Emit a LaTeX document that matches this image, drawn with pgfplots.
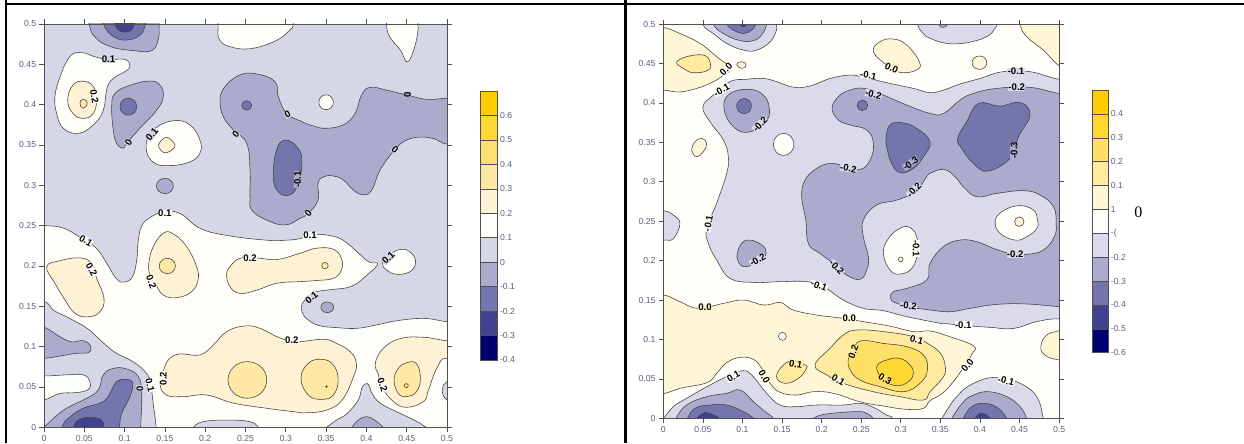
\documentclass[border=0pt]{standalone}
\usepackage{pgfplots}
\pgfplotsset{compat=1.18}
\usepackage{fontspec}
\setmainfont{Liberation Sans}
\newfontfamily\seriffont{Liberation Serif}
\definecolor{Ya}{HTML}{FFCC00}
\definecolor{Yb}{HTML}{FFD733}
\definecolor{Yc}{HTML}{FFDF6F}
\definecolor{Yd}{HTML}{FFE8A3}
\definecolor{Ye}{HTML}{FFF2D4}
\definecolor{W}{HTML}{FFFDF8}
\definecolor{C}{HTML}{D5D7E6}
\definecolor{P}{HTML}{ABABCE}
\definecolor{Q}{HTML}{7375AC}
\definecolor{R}{HTML}{41418F}
\definecolor{S}{HTML}{000070}
\definecolor{Rc}{HTML}{FFDF66}
\definecolor{Rd}{HTML}{FFEA9E}
\definecolor{Re}{HTML}{FFF6D6}
\definecolor{Rw}{HTML}{FFFEF9}
\definecolor{Rl}{HTML}{DADAEA}
\definecolor{txt}{HTML}{5C5C80}
\definecolor{ax}{HTML}{505050}
\pgfplotsset{
 F/.style={smooth cycle,tension=.72,draw=black!75,line width=.42pt,fill=#1},
 O/.style={smooth cycle,tension=1,draw=black!75,line width=.42pt,fill=#1},
 panel/.style={scale only axis,xmin=0,xmax=.5,ymin=0,ymax=.5,axis on top,
  xtick={0,.05,.1,.15,.2,.25,.3,.35,.4,.45,.5},
  xticklabels={0,0.05,0.1,0.15,0.2,0.25,0.3,0.35,0.4,0.45,0.5},
  ytick={0,.05,.1,.15,.2,.25,.3,.35,.4,.45,.5},
  yticklabels={0,0.05,0.1,0.15,0.2,0.25,0.3,0.35,0.4,0.45,0.5},
  tick align=outside,major tick length=3.4pt,
  tick style={ax,line width=.5pt},axis line style={ax,line width=.6pt},
  ticklabel style={font=\fontsize{6.5}{7}\selectfont,text=txt},
  xticklabel style={yshift=1pt},yticklabel style={xshift=1pt}},
 bar/.style={scale only axis,xmin=0,xmax=1,xtick=\empty,axis on top,
  ytick pos=right,yticklabel pos=right,major tick length=0pt,
  axis line style={ax,line width=.6pt},
  ticklabel style={font=\fontsize{6.5}{7}\selectfont,text=txt},
  yticklabel style={xshift=-1.5pt}}
}
\tikzset{lb/.style={font=\bfseries\fontsize{7.2}{8}\selectfont,text=black,inner sep=.2pt}}
\begin{document}
\begin{tikzpicture}
\useasboundingbox (0,0) rectangle (933pt,332.25pt);
\fill[black] (3.4pt,0) rectangle (5.2pt,332.25pt);
\fill[black] (3.4pt,328.2pt) rectangle (933pt,330pt);
\fill[black] (468.3pt,0) rectangle (470pt,332.25pt);
% ---------- left panel
\begin{axis}[panel,at={(33pt,11.78pt)},anchor=south west,width=302.25pt,height=302.48pt]
\addplot[fill=C,draw=none] coordinates {(0,0)(.5,0)(.5,.5)(0,.5)} --cycle;
% near-white main band
\addplot[F=W] coordinates {(-.02,.25)(0,.25)(.024,.247)(.047,.234)(.065,.222)(.078,.203)(.090,.184)(.1,.18)(.11,.187)(.115,.207)(.117,.232)(.121,.249)(.13,.259)(.148,.267)(.169,.265)(.193,.247)(.226,.238)(.276,.232)(.301,.232)(.318,.234)(.336,.239)(.355,.2376)(.371,.232)(.388,.218)(.403,.205)(.414,.2025)(.401,.189)(.382,.175)(.359,.171)(.342,.169)(.332,.165)(.321,.154)(.320,.143)(.328,.133)(.342,.126)(.363,.1236)(.388,.1227)(.413,.127)(.437,.132)(.471,.135)(.5,.131)(.53,.13)(.53,-.03)(-.03,-.03)(-.03,.2)};
% lower-left corner
\addplot[F=C] coordinates {(-.03,.158)(0,.156)(.012,.145)(.028,.137)(.053,.123)(.07,.108)(.088,.093)(.111,.081)(.127,.067)(.132,.0545)(.136,.0256)(.139,0)(.14,-.03)(-.03,-.03)};
\addplot[F=W] coordinates {(-.03,.064)(0,.0636)(.028,.065)(.0488,.065)(.057,.0566)(.055,.047)(.04,.043)(.02,.042)(0,.034)(-.03,.03)};
\addplot[F=P] coordinates {(-.03,.13)(0,.124)(.0194,.1124)(.0343,.106)(.0488,.1074)(.058,.1)(.055,.0926)(.04,.0917)(.02,.0884)(0,.0855)(-.03,.085)};
\addplot[F=P] coordinates {(-.02,-.02)(0,0)(.0116,.011)(.028,.0236)(.053,.036)(.0674,.0463)(.0736,.065)(.086,.073)(.1026,.0723)(.117,.0628)(.1212,.042)(.12,0)(.12,-.03)};
\addplot[F=Q] coordinates {(.015,-.02)(.022,0)(.03,.011)(.0488,.0236)(.0736,.032)(.084,.0463)(.09,.0566)(.1026,.0595)(.11,.0545)(.1067,.038)(.0964,.0174)(.0935,0)(.09,-.02)};
\addplot[F=R] coordinates {(.033,-.01)(.0364,0)(.0426,.009)(.057,.0124)(.0715,.009)(.0744,0)(.077,-.01)};
\addplot[O=S] coordinates {(.048,-.002)(.05,.002)(.052,-.002)(.05,-.004)};
% bottom bumps
\addplot[F=C] coordinates {(.178,-.01)(.185,0)(.198,.007)(.227,.009)(.255,.007)(.266,0)(.27,-.01)};
\addplot[F=C] coordinates {(.34,-.01)(.351,0)(.363,.009)(.376,.017)(.39,.034)(.394,.048)(.399,.0537)(.403,.0525)(.407,.042)(.417,.03)(.438,.019)(.459,.009)(.474,0)(.485,-.01)};
\addplot[F=P] coordinates {(.375,-.01)(.382,0)(.39,.009)(.4,.0132)(.41,.009)(.421,0)(.43,-.01)};
\addplot[F=C] coordinates {(.51,.06)(.5,.0566)(.4955,.0525)(.494,.0463)(.496,.038)(.5,.034)(.51,.03)};
% yellow lower
\addplot[F=Ye] coordinates {(.144,.0545)(.15,.075)(.156,.0855)(.1687,.091)(.1935,.0897)(.21,.102)(.2266,.1186)(.249,.1256)(.268,.1227)(.2887,.1124)(.309,.106)(.3176,.106)(.347,.109)(.363,.104)(.38,.0938)(.3875,.0793)(.384,.0628)(.37,.034)(.351,.0215)(.326,.018)(.309,.0194)(.276,.0236)(.235,.03)(.2018,.04)(.173,.038)(.152,.04)};
\addplot[O=Yd] coordinates {(.2283,.0587)(.2523,.0814)(.2763,.0587)(.2523,.036)};
\addplot[F=Yd] coordinates {(.3188,.0607)(.3279,.0793)(.3445,.0843)(.359,.0773)(.365,.0587)(.359,.04)(.3445,.0347)(.3279,.04)};
\addplot[O=Yc] coordinates {(.3495,.0505)(.3505,.0515)(.3515,.0505)(.3505,.0495)};
\addplot[F=Ye] coordinates {(.411,.0793)(.4211,.098)(.442,.11)(.4707,.1116)(.5,.1074)(.53,.107)(.53,.07)(.5,.0855)(.4873,.073)(.477,.046)(.471,.032)(.4498,.0248)(.4334,.032)(.419,.05)(.415,.065)};
\addplot[F=Yd] coordinates {(.4343,.0587)(.4396,.073)(.4498,.08)(.462,.079)(.467,.0607)(.462,.044)(.4498,.038)(.4396,.042)};
\addplot[O=Yc] coordinates {(.447,.0517)(.4495,.0542)(.452,.0517)(.4495,.0492)};
% yellow upper
\addplot[F=Ye] coordinates {(.0033,.199)(.02,.2066)(.0447,.21)(.059,.203)(.0653,.1847)(.0744,.16)(.0695,.1434)(.055,.137)(.0385,.1413)(.026,.158)(.0136,.1785)};
\addplot[F=Ye] coordinates {(.13,.2033)(.1356,.224)(.148,.2405)(.16,.24)(.177,.224)(.1894,.199)(.191,.1826)(.183,.168)(.1646,.1607)(.148,.164)(.1377,.1785)(.1315,.189)};
\addplot[O=Yd] coordinates {(.143,.2)(.153,.2095)(.163,.2)(.153,.1905)};
\addplot[F=Ye] coordinates {(.2266,.1888)(.2308,.199)(.243,.2095)(.264,.21)(.2887,.208)(.3176,.2157)(.338,.222)(.359,.2207)(.369,.2095)(.369,.195)(.359,.1847)(.338,.182)(.3176,.1806)(.2887,.1785)(.264,.170)(.243,.166)(.2308,.1744)};
\addplot[O=Yd] coordinates {(.3446,.2004)(.3486,.2044)(.3526,.2004)(.3486,.1964)};
\addplot[F=W] coordinates {(.42,.2033)(.4274,.2136)(.4438,.2207)(.456,.2157)(.461,.204)(.4541,.193)(.4375,.1897)(.425,.195)};
\addplot[O=P] coordinates {(.3435,.1488)(.3515,.1554)(.3595,.1488)(.3515,.1422)};
% top blobs
\addplot[F=W] coordinates {(.216,.53)(.216,.5)(.218,.48)(.235,.4707)(.26,.47)(.289,.48)(.305,.4926)(.309,.5)(.31,.53)};
\addplot[F=W] coordinates {(.425,.53)(.425,.5)(.429,.484)(.442,.468)(.451,.453)(.46,.472)(.464,.4926)(.464,.5)(.464,.53)};
\addplot[F=W] coordinates {(.0136,.41)(.02,.4347)(.032,.4595)(.0467,.4645)(.065,.4587)(.082,.456)(.1005,.456)(.1067,.448)(.1005,.441)(.086,.4326)(.078,.42)(.0736,.393)(.0612,.375)(.0426,.3645)(.024,.3707)(.0157,.389)};
\addplot[F=Ye] coordinates {(.0294,.4058)(.036,.4244)(.049,.429)(.0612,.4223)(.0653,.4058)(.061,.389)(.049,.383)(.036,.389)};
\addplot[O=Yd] coordinates {(.0446,.4017)(.0488,.4066)(.0537,.4017)(.0488,.3955)};
\addplot[F=W] coordinates {(.1266,.348)(.1356,.3686)(.16,.38)(.181,.375)(.1935,.356)(.1935,.34)(.181,.329)(.156,.3244)(.1356,.3285)};
\addplot[F=Ye] coordinates {(.1423,.35)(.152,.3595)(.1625,.35)(.156,.342)(.148,.341)};
\addplot[F=P] coordinates {(.05,.53)(.056,.5)(.063,.484)(.082,.472)(.111,.467)(.1336,.467)(.142,.482)(.1427,.5)(.143,.53)};
\addplot[F=Q] coordinates {(.07,.515)(.0736,.5)(.084,.486)(.1005,.48)(.119,.486)(.126,.5)(.13,.515)};
\addplot[F=R] coordinates {(.085,.51)(.088,.5)(.092,.493)(.1005,.49)(.109,.493)(.1117,.5)(.115,.51)};
\addplot[F=P] coordinates {(.084,.3975)(.0881,.414)(.1067,.424)(.1315,.4293)(.144,.424)(.148,.41)(.14,.3934)(.119,.3707)(.1026,.352)(.0984,.3459)(.09,.352)(.086,.3686)};
\addplot[O=Q] coordinates {(.0943,.3975)(.1046,.408)(.115,.3975)(.1046,.387)};
\addplot[O=P] coordinates {(.1395,.2992)(.15,.3087)(.1605,.2992)(.15,.2897)};
% big purple
\addplot[F=P] coordinates {(.2184,.4058)(.2245,.4223)(.243,.4368)(.2643,.438)(.2866,.4285)(.2907,.41)(.301,.389)(.3176,.38)(.334,.3736)(.35,.3707)(.3714,.375)(.386,.389)(.394,.412)(.4046,.4215)(.425,.418)(.45,.412)(.475,.4066)(.5,.408)(.53,.408)(.53,.35)(.5,.351)(.483,.358)(.4625,.3595)(.446,.354)(.4355,.344)(.425,.3314)(.415,.315)(.4066,.294)(.396,.288)(.384,.294)(.3714,.3066)(.359,.3116)(.347,.3107)(.34,.3025)(.34,.2818)(.328,.2653)(.3176,.259)(.299,.2508)(.276,.257)(.2577,.2694)(.2556,.286)(.2556,.319)(.2515,.352)(.235,.3686)(.2225,.385)};
\addplot[O=Q] coordinates {(.2453,.399)(.2515,.4048)(.2577,.399)(.2515,.3932)};
\addplot[F=Q] coordinates {(.2845,.3107)(.2886,.344)(.299,.356)(.3135,.348)(.32,.3314)(.3155,.3025)(.305,.288)(.2907,.292)};
\addplot[O=W] coordinates {(.341,.403)(.35,.4122)(.359,.403)(.35,.3938)};
% labels
\node[lb,fill=C] at (axis cs:.08,.456) {0.1};
\node[lb,fill=W,rotate=-80] at (axis cs:.0625,.41) {0.2};
\node[lb,fill=C,rotate=60] at (axis cs:.105,.353) {0};
\node[lb,fill=C,rotate=50] at (axis cs:.134,.363) {0.1};
\node[lb,fill=C,rotate=50] at (axis cs:.238,.363) {0};
\node[lb,fill=C,rotate=30] at (axis cs:.302,.388) {0};
\node[lb,fill=P,rotate=90] at (axis cs:.3145,.307) {-0.1};
\node[lb,fill=C,rotate=50] at (axis cs:.328,.265) {0};
\node[lb,fill=W] at (axis cs:.15,.265) {0.1};
\node[lb,fill=W,rotate=-30] at (axis cs:.052,.2314) {0.1};
\node[lb,fill=W,rotate=-60] at (axis cs:.059,.195) {0.2};
\node[lb,fill=W,rotate=-70] at (axis cs:.133,.1806) {0.2};
\node[lb,fill=W] at (axis cs:.2556,.2095) {0.2};
\node[lb,fill=W] at (axis cs:.33,.2376) {0.1};
\node[lb,fill=C,rotate=40] at (axis cs:.332,.161) {0.1};
\node[lb,fill=W] at (axis cs:.3073,.1074) {0.2};
\node[lb,fill=W,rotate=-75] at (axis cs:.1315,.0525) {0.1};
\node[lb,fill=C,rotate=90] at (axis cs:.119,.0483) {0};
\node[lb,fill=W,rotate=90] at (axis cs:.148,.0607) {0.2};
\node[lb,fill=C,rotate=45] at (axis cs:.4272,.21) {0.1};
\node[lb,fill=W,rotate=-70] at (axis cs:.42,.0525) {0.2};
\node[lb,fill=P,rotate=90] at (axis cs:.451,.412) {0};
\node[lb,fill=C,rotate=-40] at (axis cs:.4355,.344) {0};
\end{axis}
% ---------- left colour bar
\begin{axis}[bar,at={(360pt,62.25pt)},anchor=south west,width=13pt,height=201.75pt,ymin=-.4,ymax=.7,
 ytick={-.4,-.3,-.2,-.1,0,.1,.2,.3,.4,.5,.6},
 yticklabels={-0.4,-0.3,-0.2,-0.1,0,0.1,0.2,0.3,0.4,0.5,0.6}]
\addplot[fill=S,draw=ax] coordinates {(0,-.4)(1,-.4)(1,-.3)(0,-.3)} --cycle;
\addplot[fill=R,draw=ax] coordinates {(0,-.3)(1,-.3)(1,-.2)(0,-.2)} --cycle;
\addplot[fill=Q,draw=ax] coordinates {(0,-.2)(1,-.2)(1,-.1)(0,-.1)} --cycle;
\addplot[fill=P,draw=ax] coordinates {(0,-.1)(1,-.1)(1,0)(0,0)} --cycle;
\addplot[fill=C,draw=ax] coordinates {(0,0)(1,0)(1,.1)(0,.1)} --cycle;
\addplot[fill=W,draw=ax] coordinates {(0,.1)(1,.1)(1,.2)(0,.2)} --cycle;
\addplot[fill=Ye,draw=ax] coordinates {(0,.2)(1,.2)(1,.3)(0,.3)} --cycle;
\addplot[fill=Yd,draw=ax] coordinates {(0,.3)(1,.3)(1,.4)(0,.4)} --cycle;
\addplot[fill=Yc,draw=ax] coordinates {(0,.4)(1,.4)(1,.5)(0,.5)} --cycle;
\addplot[fill=Yb,draw=ax] coordinates {(0,.5)(1,.5)(1,.6)(0,.6)} --cycle;
\addplot[fill=Ya,draw=ax] coordinates {(0,.6)(1,.6)(1,.7)(0,.7)} --cycle;
\end{axis}
% ---------- right panel
\begin{axis}[panel,at={(497.5pt,18.5pt)},anchor=south west,width=296.8pt,height=295.7pt]
\addplot[fill=Rw,draw=none] coordinates {(0,0)(.5,0)(.5,.5)(0,.5)} --cycle;
% light lavender upper
\addplot[F=Rl] coordinates {(.05,.395)(.0632,.41)(.084,.4269)(.105,.43)(.1264,.431)(.143,.427)(.164,.42)(.185,.4214)(.211,.431)(.236,.4353)(.2527,.4324)(.286,.4248)(.316,.4184)(.337,.413)(.354,.4163)(.3748,.424)(.40,.431)(.429,.4396)(.4633,.4396)(.5,.43)(.53,.43)(.53,.12)(.5,.126)(.4717,.1226)(.442,.114)(.4128,.1154)(.3834,.1175)(.358,.12)(.35,.1205)(.3075,.129)(.278,.1365)(.2527,.1395)(.2275,.15)(.2022,.167)(.181,.1733)(.1474,.1733)(.1137,.1724)(.0843,.1775)(.0674,.2008)(.0569,.2219)(.0548,.241)(.0674,.273)(.08,.3107)(.0821,.3318)(.0758,.353)(.059,.376)};
\addplot[F=Rl] coordinates {(-.03,.265)(0,.2633)(.0126,.2578)(.021,.247)(.0126,.228)(0,.2261)(-.03,.225)};
\addplot[F=Rl] coordinates {(.045,.53)(.05,.5)(.0632,.488)(.08,.4755)(.101,.467)(.118,.467)(.135,.4776)(.143,.4924)(.143,.5)(.145,.53)};
\addplot[F=P] coordinates {(.06,.52)(.0632,.5)(.0758,.488)(.097,.479)(.1137,.479)(.124,.486)(.1306,.5)(.133,.52)};
\addplot[F=Q] coordinates {(.075,.515)(.08,.5)(.0885,.4924)(.101,.488)(.1116,.4924)(.117,.5)(.122,.515)};
\addplot[F=R] coordinates {(.094,.505)(.0964,.5)(.101,.4965)(.1053,.5)(.108,.505)};
\addplot[F=Rl] coordinates {(.315,.53)(.321,.5)(.3286,.488)(.337,.482)(.358,.4755)(.3834,.4763)(.4086,.484)(.419,.4945)(.421,.5)(.425,.53)};
\addplot[F=P] coordinates {(.345,.51)(.3475,.5)(.353,.4958)(.36,.5)(.363,.51)};
% bottom
\addplot[F=Re] coordinates {(-.03,.157)(0,.1564)(.021,.148)(.044,.1395)(.076,.1458)(.101,.15)(.1264,.1437)(.143,.1467)(.1516,.1458)(.164,.1374)(.1938,.131)(.2275,.1268)(.2527,.1226)(.286,.117)(.316,.11)(.337,.1107)(.362,.1035)(.392,.0917)(.39,.0815)(.3797,.0652)(.3685,.0493)(.3538,.0327)(.337,.0224)(.3286,.0127)(.3075,.0114)(.278,.0156)(.2485,.021)(.215,.0317)(.1896,.0338)(.1685,.0296)(.1474,.033)(.1348,.0444)(.1243,.0634)(.1137,.0748)(.097,.0773)(.08,.0706)(.0674,.057)(.0548,.0452)(.021,.038)(0,.0309)(-.03,.025)};
\addplot[O=Rw] coordinates {(.1454,.104)(.1504,.109)(.1554,.104)(.1504,.099)};
\addplot[F=Rd] coordinates {(.143,.0528)(.1516,.0676)(.1643,.073)(.179,.0676)(.181,.0634)(.1706,.0507)(.1537,.0444)};
\addplot[F=Rd] coordinates {(.1917,.0676)(.2106,.0888)(.2275,.1057)(.2443,.112)(.278,.11)(.316,.1035)(.337,.093)(.35,.0824)(.3559,.0676)(.354,.0528)(.337,.0338)(.3286,.0232)(.299,.0275)(.265,.0338)(.2275,.0444)(.2064,.055)};
\addplot[F=Rc] coordinates {(.2338,.0761)(.24,.0888)(.2506,.0985)(.278,.095)(.3075,.0909)(.3286,.0803)(.3336,.0613)(.3243,.0444)(.3033,.0338)(.2738,.0402)(.2485,.0486)(.236,.0613)};
\addplot[F=Yb] coordinates {(.2696,.0655)(.2822,.074)(.299,.076)(.3117,.0676)(.316,.057)(.3096,.0465)(.295,.0414)(.278,.0486)};
\addplot[F=Rl] coordinates {(-.02,-.02)(0,0)(.0126,.0148)(.0295,.0254)(.0548,.04)(.08,.0528)(.101,.0604)(.1137,.0528)(.1306,.0317)(.1474,.0169)(.1685,.0148)(.194,.0169)(.2275,.0169)(.2485,.019)(.2654,.014)(.282,.0042)(.29,0)(.3,-.02)};
\addplot[F=P] coordinates {(.01,-.015)(.016,0)(.0295,.0169)(.0548,.0275)(.08,.0317)(.0969,.0359)(.1137,.0211)(.1285,.0085)(.139,0)(.147,-.015)};
\addplot[F=Q] coordinates {(.025,-.012)(.0303,0)(.04,.0127)(.059,.0169)(.08,.0169)(.1011,.0085)(.1137,0)(.122,-.012)};
\addplot[F=R] coordinates {(.038,-.006)(.0421,0)(.0527,.0072)(.0632,.0042)(.0708,0)(.074,-.006)};
\addplot[F=P] coordinates {(.18,-.01)(.1896,0)(.2064,.0055)(.2443,.0085)(.257,.0063)(.2654,0)(.275,-.01)};
\addplot[F=Rl] coordinates {(.345,-.015)(.352,0)(.3707,.0275)(.392,.0444)(.4212,.052)(.4507,.0444)(.4717,.0275)(.48,0)(.483,-.015)};
\addplot[F=P] coordinates {(.36,-.012)(.3644,0)(.379,.0208)(.392,.0296)(.4107,.0338)(.4339,.0275)(.4507,.0148)(.4591,0)(.463,-.012)};
\addplot[F=Q] coordinates {(.375,-.01)(.379,0)(.3896,.0148)(.4065,.019)(.4233,.0127)(.4339,0)(.44,-.01)};
\addplot[F=R] coordinates {(.39,-.005)(.394,0)(.4,.0063)(.4086,.0042)(.4128,0)(.416,-.005)};
% top-left yellow
\addplot[F=Re] coordinates {(-.03,.5)(0,.4958)(.021,.488)(.0463,.4755)(.0674,.4586)(.084,.4438)(.0737,.4335)(.059,.4248)(.042,.4184)(.021,.414)(0,.4163)(-.03,.42)};
\addplot[F=Rd] coordinates {(.0168,.4514)(.0295,.4586)(.0505,.4607)(.059,.4522)(.0569,.4417)(.038,.4383)(.0253,.4438)};
\addplot[O=Re] coordinates {(.0927,.4489)(.099,.4522)(.1045,.448)(.099,.4438)};
\addplot[F=Re] coordinates {(.2654,.465)(.2738,.4776)(.2906,.481)(.3075,.4734)(.3235,.4522)(.32,.4417)(.299,.4387)(.2822,.448)};
\addplot[F=Re] coordinates {(.0358,.34)(.04,.3508)(.0484,.355)(.0548,.3487)(.0505,.338)(.0421,.3318)};
\addplot[O=Re] coordinates {(.3901,.451)(.3994,.4595)(.4087,.451)(.3994,.4425)};
\addplot[F=Re] coordinates {(.445,.53)(.4507,.5)(.459,.484)(.48,.467)(.5,.4472)(.53,.43)(.53,.53)};
\addplot[F=Re] coordinates {(.53,.12)(.5,.1112)(.4844,.1057)(.477,.0917)(.4823,.08)(.5,.074)(.53,.07)};
% white on lavender
\addplot[O=Rw] coordinates {(.139,.3474)(.152,.3614)(.165,.3474)(.152,.3334)};
% purple mid
\addplot[F=P] coordinates {(.0767,.393)(.082,.41)(.1032,.4172)(.1243,.412)(.134,.393)(.128,.374)(.1053,.3626)(.0864,.372)};
\addplot[O=Q] coordinates {(.0927,.396)(.102,.4055)(.1113,.396)(.102,.3865)};
\addplot[F=P] coordinates {(.2132,.393)(.2212,.408)(.236,.4163)(.2548,.4184)(.278,.41)(.3075,.3973)(.337,.3867)(.354,.3867)(.3748,.4036)(.3918,.412)(.4212,.4184)(.4633,.4197)(.5,.412)(.53,.41)(.53,.14)(.5,.1416)(.4591,.145)(.4212,.1445)(.3876,.1395)(.362,.1352)(.337,.1374)(.32,.1395)(.295,.1458)(.2873,.152)(.2907,.1606)(.3075,.1648)(.3328,.1754)(.337,.1965)(.3538,.2177)(.3748,.2261)(.396,.224)(.417,.2156)(.4381,.2092)(.4591,.208)(.4802,.2134)(.494,.2303)(.4963,.2473)(.4929,.2684)(.476,.2832)(.4549,.2887)(.4212,.2853)(.396,.281)(.379,.2937)(.3686,.3064)(.3544,.3157)(.337,.3107)(.3328,.3064)(.318,.2874)(.295,.2768)(.2696,.2705)(.2527,.2515)(.2527,.2303)(.259,.205)(.2569,.188)(.2485,.1763)(.2317,.1817)(.2148,.1965)(.198,.209)(.1832,.2219)(.18,.2515)(.1748,.281)(.179,.3022)(.1938,.317)(.2106,.3233)(.2275,.3204)(.2485,.3157)(.2612,.3276)(.2654,.3487)(.257,.3656)(.236,.372)(.2212,.3783)};
\addplot[F=P] coordinates {(.0935,.2092)(.099,.2219)(.1095,.2261)(.1243,.2198)(.13,.2092)(.1201,.1986)(.1032,.1923)(.0948,.1986)};
\addplot[O=Q] coordinates {(.2448,.3969)(.2515,.4036)(.2582,.3969)(.2515,.3902)};
\addplot[F=Q] coordinates {(.2814,.355)(.2864,.372)(.3012,.3749)(.3201,.3677)(.337,.3508)(.3286,.3318)(.316,.317)(.2991,.3115)(.2885,.3233)(.2831,.3402)};
\addplot[F=Q] coordinates {(.3719,.355)(.3833,.3762)(.3981,.3994)(.4254,.396)(.4507,.4007)(.4633,.3846)(.4487,.3571)(.4403,.3318)(.4107,.3136)(.3917,.3233)(.377,.3423)};
\addplot[F=Rw] coordinates {(.278,.2092)(.2843,.228)(.299,.241)(.3117,.242)(.32,.2303)(.321,.2092)(.3138,.19)(.299,.183)(.2864,.188)};
\addplot[O=Re] coordinates {(.297,.2016)(.2999,.2046)(.303,.2016)(.2999,.1986)};
\addplot[F=Rw] coordinates {(.4193,.2494)(.4276,.262)(.4486,.2697)(.4675,.2642)(.4727,.2515)(.472,.241)(.4591,.2303)(.4444,.226)(.4254,.2346)};
\addplot[O=Re] coordinates {(.4437,.2494)(.4497,.2554)(.4557,.2494)(.4497,.2434)};
% labels
\node[lb,fill=Rw,rotate=45] at (axis cs:.0792,.4425) {0.0};
\node[lb,fill=Rw,rotate=30] at (axis cs:.0737,.4163) {-0.1};
\node[lb,fill=Rl,rotate=45] at (axis cs:.1222,.3728) {-0.2};
\node[lb,fill=Rl,rotate=-10] at (axis cs:.2338,.317) {-0.2};
\node[lb,fill=Rw,rotate=-10] at (axis cs:.259,.435) {-0.1};
\node[lb,fill=Rl,rotate=-15] at (axis cs:.2654,.411) {-0.2};
\node[lb,fill=Re,rotate=-25] at (axis cs:.2885,.4438) {0.0};
\node[lb,fill=P,rotate=35] at (axis cs:.3125,.3233) {-0.3};
\node[lb,fill=Rl,rotate=45] at (axis cs:.3168,.2895) {-0.2};
\node[lb,fill=Rw,rotate=80] at (axis cs:.0569,.2472) {-0.1};
\node[lb,fill=Rl] at (axis cs:.4456,.4396) {-0.1};
\node[lb,fill=Rl] at (axis cs:.4465,.4197) {-0.2};
\node[lb,fill=P,rotate=90] at (axis cs:.4431,.3402) {-0.3};
\node[lb,fill=Rl] at (axis cs:.4444,.2079) {-0.2};
\node[lb,fill=Rw] at (axis cs:.379,.1183) {-0.1};
\node[lb,fill=Rw,rotate=50] at (axis cs:.3842,.0668) {0.0};
\node[lb,fill=Rw,rotate=-15] at (axis cs:.433,.0473) {-0.1};
\node[lb,fill=Rl,rotate=30] at (axis cs:.1192,.2008) {-0.2};
\node[lb,fill=Rl,rotate=-45] at (axis cs:.2191,.1915) {-0.2};
\node[lb,fill=Rw,rotate=-20] at (axis cs:.1967,.1682) {-0.1};
\node[lb,fill=Rw,rotate=-90] at (axis cs:.3193,.2156) {-0.1};
\node[lb,fill=Rl,rotate=-5] at (axis cs:.3096,.1424) {-0.2};
\node[lb,fill=Re] at (axis cs:.0527,.1407) {0.0};
\node[lb,fill=Re] at (axis cs:.235,.1268) {0.0};
\node[lb,fill=Re,rotate=-15] at (axis cs:.32,.0993) {0.1};
\node[lb,fill=Rd,rotate=70] at (axis cs:.24,.0845) {0.2};
\node[lb,fill=Rc,rotate=-30] at (axis cs:.2801,.0499) {0.3};
\node[lb,fill=Re,rotate=-30] at (axis cs:.2212,.0486) {0.1};
\node[lb,fill=Rd,rotate=-10] at (axis cs:.1672,.0689) {0.1};
\node[lb,fill=Re,rotate=-60] at (axis cs:.1276,.0528) {0.0};
\node[lb,fill=Rw,rotate=30] at (axis cs:.0885,.0528) {0.1};
\end{axis}
% ---------- right colour bar
\begin{axis}[bar,at={(819pt,67.7pt)},anchor=south west,width=12.2pt,height=197pt,ymin=-.6,ymax=.5,
 ytick={-.6,-.5,-.4,-.3,-.2,-.1,0,.1,.2,.3,.4},
 yticklabels={-0.6,-0.5,-0.4,-0.3,-0.2,-(,1,0.1,0.2,0.3,0.4}]
\addplot[fill=S,draw=ax] coordinates {(0,-.6)(1,-.6)(1,-.5)(0,-.5)} --cycle;
\addplot[fill=R,draw=ax] coordinates {(0,-.5)(1,-.5)(1,-.4)(0,-.4)} --cycle;
\addplot[fill=Q,draw=ax] coordinates {(0,-.4)(1,-.4)(1,-.3)(0,-.3)} --cycle;
\addplot[fill=P,draw=ax] coordinates {(0,-.3)(1,-.3)(1,-.2)(0,-.2)} --cycle;
\addplot[fill=Rl,draw=ax] coordinates {(0,-.2)(1,-.2)(1,-.1)(0,-.1)} --cycle;
\addplot[fill=Rw,draw=ax] coordinates {(0,-.1)(1,-.1)(1,0)(0,0)} --cycle;
\addplot[fill=Re,draw=ax] coordinates {(0,0)(1,0)(1,.1)(0,.1)} --cycle;
\addplot[fill=Rd,draw=ax] coordinates {(0,.1)(1,.1)(1,.2)(0,.2)} --cycle;
\addplot[fill=Rc,draw=ax] coordinates {(0,.2)(1,.2)(1,.3)(0,.3)} --cycle;
\addplot[fill=Yb,draw=ax] coordinates {(0,.3)(1,.3)(1,.4)(0,.4)} --cycle;
\addplot[fill=Ya,draw=ax] coordinates {(0,.4)(1,.4)(1,.5)(0,.5)} --cycle;
\end{axis}
\node[font=\seriffont\fontsize{12}{14}\selectfont,text=black,inner sep=0pt] at (853.7pt,173.2pt) {0};
\end{tikzpicture}
\end{document}
